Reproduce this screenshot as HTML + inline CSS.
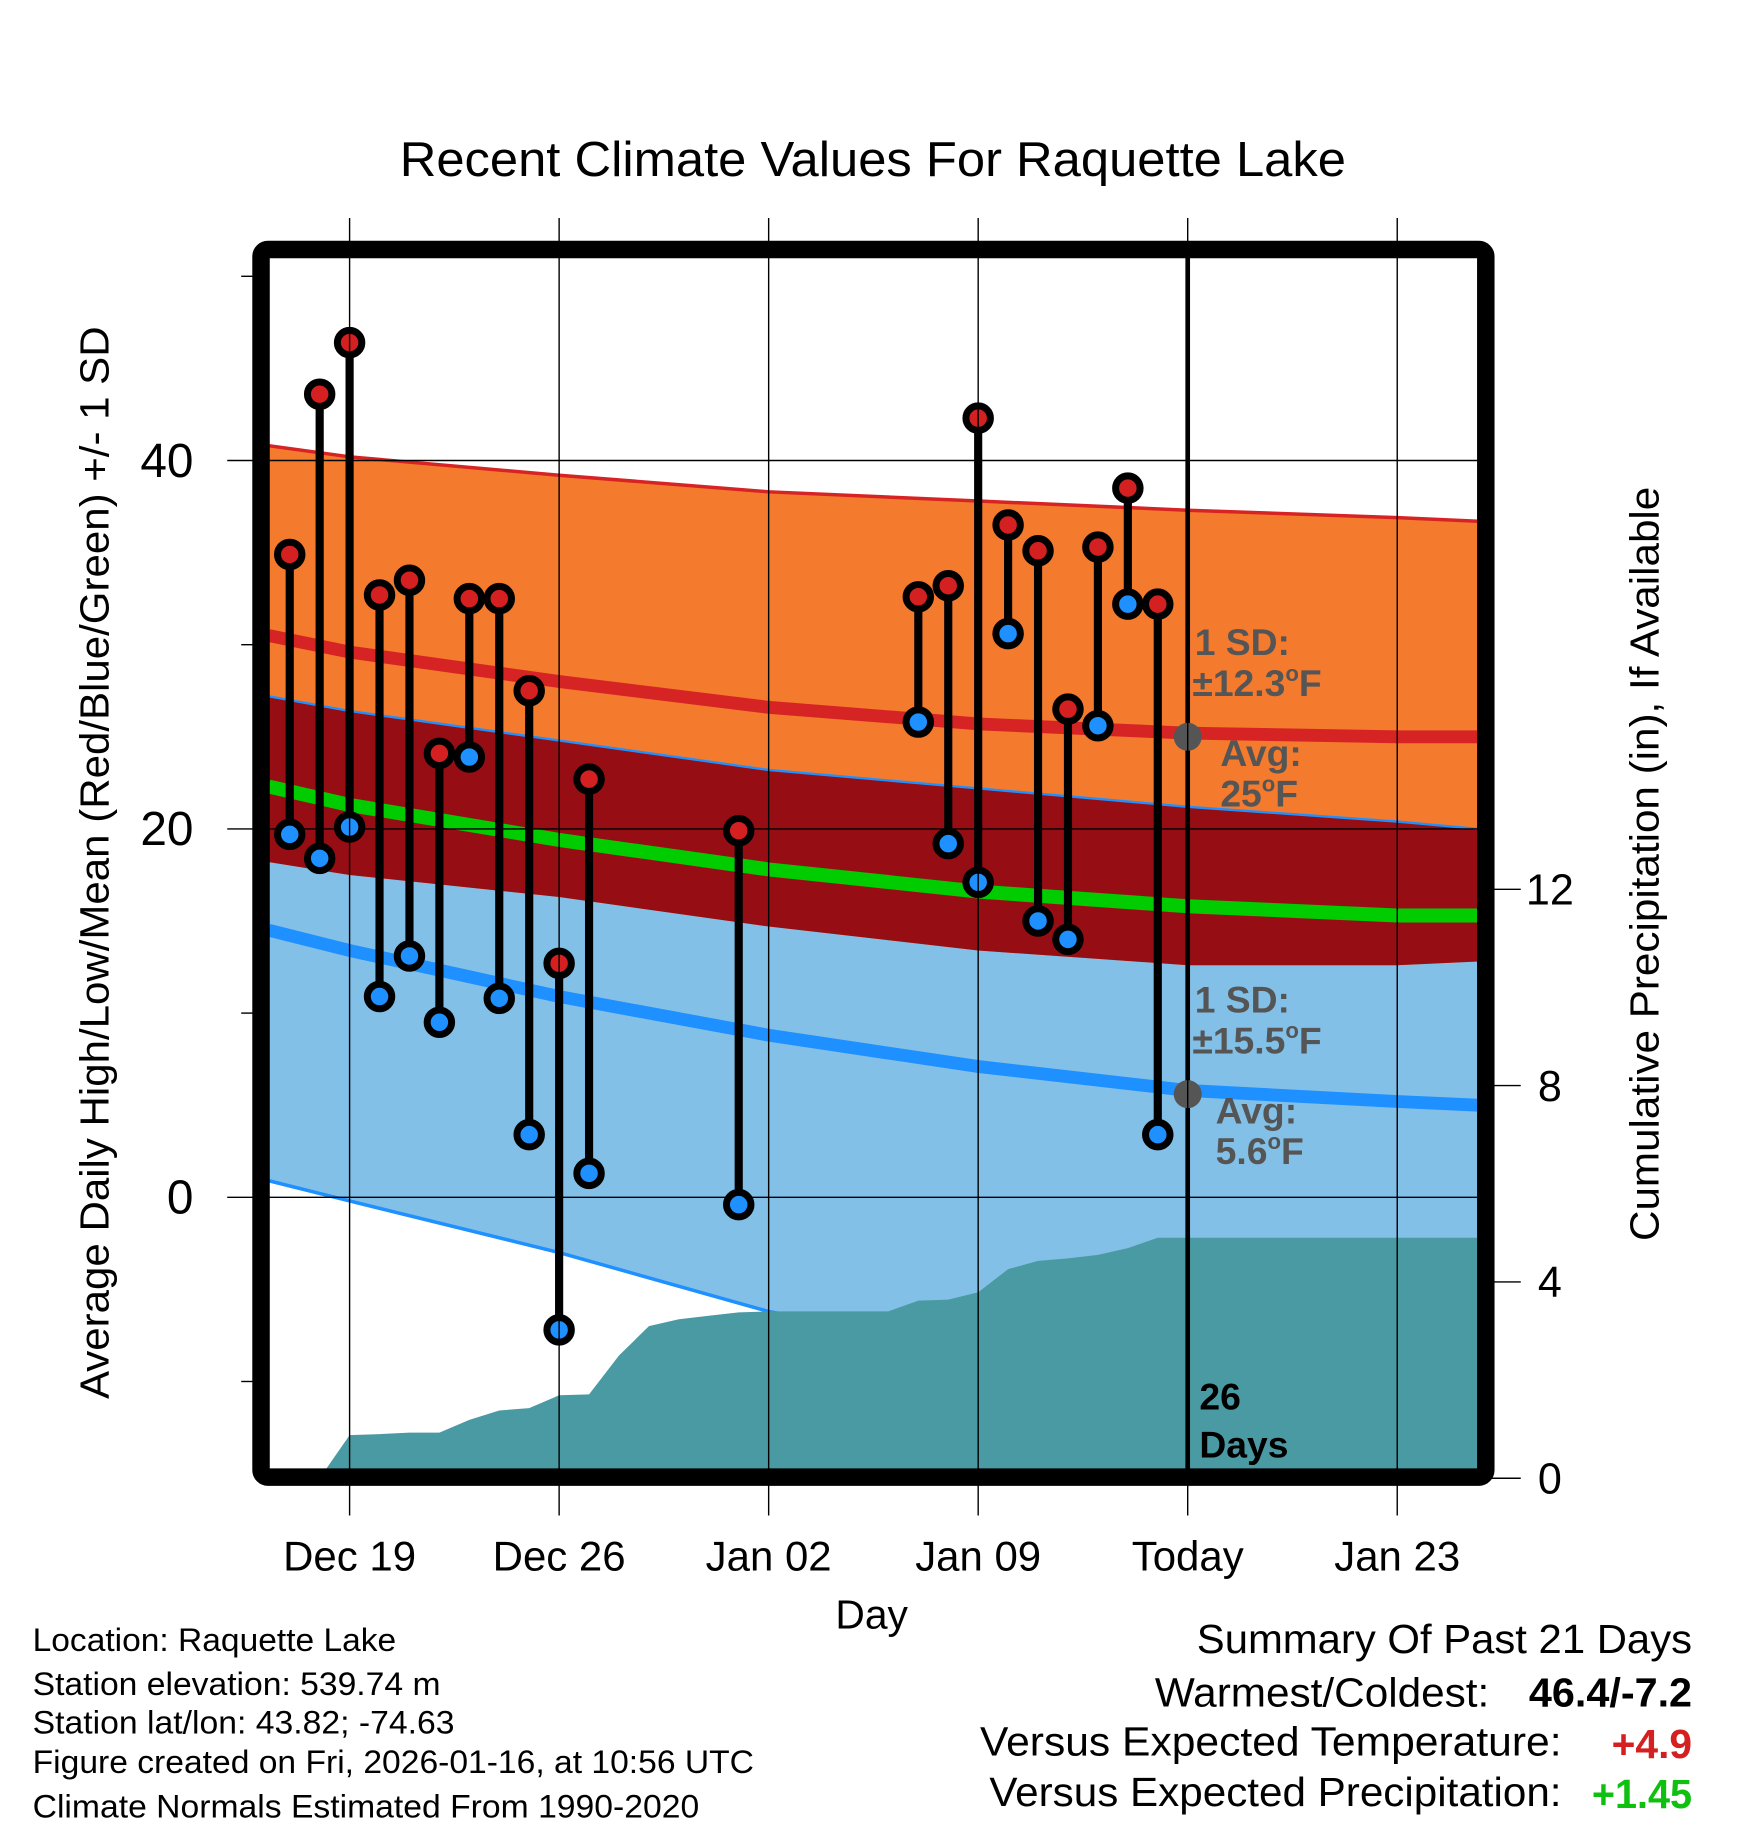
<!DOCTYPE html>
<html><head><meta charset="utf-8"><style>
html,body{margin:0;padding:0;background:#fff}
svg{display:block;font-family:"Liberation Sans",Arial,sans-serif}
</style></head><body>
<svg id="chart" width="1748" height="1828" viewBox="0 0 1500 1568" preserveAspectRatio="none" xmlns="http://www.w3.org/2000/svg">
<defs><clipPath id="plotclip"><rect x="231" y="221" width="1037" height="1039"/></clipPath></defs>
<text x="343" y="151" font-size="42" textLength="812" lengthAdjust="spacingAndGlyphs">Recent Climate Values For Raquette Lake</text>
<g id="plot" clip-path="url(#plotclip)"></g>
<g id="over"></g>
<rect x="224" y="214" width="1051" height="1053" rx="6" fill="none" stroke="#000" stroke-width="15"/>
<g id="axes"></g>
<text x="748" y="1397" font-size="35" text-anchor="middle">Day</text>
<text transform="translate(93,740) rotate(-90)" font-size="35" text-anchor="middle" textLength="920" lengthAdjust="spacingAndGlyphs">Average Daily High/Low/Mean (Red/Blue/Green) +/- 1 SD</text>
<text transform="translate(1423,741) rotate(-90)" font-size="35" text-anchor="middle" textLength="647" lengthAdjust="spacingAndGlyphs">Cumulative Precipitation (in), If Available</text>
<g font-size="28" lengthAdjust="spacingAndGlyphs">
<text x="28" y="1416" textLength="312" lengthAdjust="spacingAndGlyphs">Location: Raquette Lake</text>
<text x="28" y="1454" textLength="350" lengthAdjust="spacingAndGlyphs">Station elevation: 539.74 m</text>
<text x="28" y="1487" textLength="362" lengthAdjust="spacingAndGlyphs">Station lat/lon: 43.82; -74.63</text>
<text x="28" y="1521" textLength="619" lengthAdjust="spacingAndGlyphs">Figure created on Fri, 2026-01-16, at 10:56 UTC</text>
<text x="28" y="1559" textLength="572" lengthAdjust="spacingAndGlyphs">Climate Normals Estimated From 1990-2020</text>
</g>
<g font-size="35">
<text x="1027" y="1418" textLength="425" lengthAdjust="spacingAndGlyphs">Summary Of Past 21 Days</text>
<text x="991" y="1464" textLength="287" lengthAdjust="spacingAndGlyphs">Warmest/Coldest:</text>
<text x="1312" y="1464" font-weight="bold" textLength="140" lengthAdjust="spacingAndGlyphs">46.4/-7.2</text>
<text x="841" y="1506" textLength="499" lengthAdjust="spacingAndGlyphs">Versus Expected Temperature:</text>
<text x="1383" y="1508" font-weight="bold" fill="#d42020" textLength="69" lengthAdjust="spacingAndGlyphs">+4.9</text>
<text x="849" y="1549" textLength="491" lengthAdjust="spacingAndGlyphs">Versus Expected Precipitation:</text>
<text x="1366" y="1551" font-weight="bold" fill="#10c010" textLength="86" lengthAdjust="spacingAndGlyphs">+1.45</text>
</g>
</svg>
<script>
// day index: 0 = Dec 19
const normDays = [-2.7, 0, 7, 14, 21, 28, 35, 37.7];
const highTop = [40.8, 40.2, 39.2, 38.3, 37.8, 37.3, 36.9, 36.7];
const highAvg = [30.5, 29.6, 28.0, 26.6, 25.7, 25.2, 25.0, 25.0];
const highBot = [18.2, 17.5, 16.3, 14.7, 13.4, 12.6, 12.6, 12.8];
const meanAvg = [22.3, 21.3, 19.4, 17.8, 16.6, 15.8, 15.3, 15.3];
const lowTop = [27.2, 26.4, 24.8, 23.2, 22.2, 21.2, 20.4, 20.0];
const lowAvg = [14.5, 13.4, 10.9, 8.8, 7.1, 5.8, 5.2, 5.0];
const lowBot = [0.9, -0.2, -3.0, -6.2, -8.4, -9.9, -10.6, -10.8];
const obsDays = [-2,-1,0,1,2,3,4,5,6,7,8,13,19,20,21,22,23,24,25,26,27];
const obsHigh = [34.9,43.6,46.4,32.7,33.5,24.1,32.5,32.5,27.5,12.7,22.7,19.9,32.6,33.2,42.3,36.5,35.1,26.5,35.3,38.5,32.2];
const obsLow = [19.7,18.4,20.1,10.9,13.1,9.5,23.9,10.8,3.4,-7.2,1.3,-0.4,25.8,19.2,17.1,30.6,15.0,14.0,25.6,32.2,3.4];
const precipDays = [-1,0,1,2,3,4,5,6,7,8,9,10,11,12,13,14,18,19,20,21,22,23,24,25,26,27,28,37.7];
const precipVals = [0,0.88,0.9,0.93,0.93,1.19,1.38,1.43,1.69,1.71,2.5,3.1,3.24,3.31,3.38,3.4,3.4,3.62,3.64,3.79,4.26,4.43,4.48,4.55,4.69,4.9,4.9,4.9];
const xTickDays = [0,7,14,21,28,35];
const xTickLabels = ["Dec 19","Dec 26","Jan 02","Jan 09","Today","Jan 23"];
const yTicks = [0,20,40];
const yMinor = [-10,10,30,50];
const pTicks = [0,4,8,12];
const todayDay = 28;
const todayHigh = 25, todayHighSD = "12.3", todayLow = 5.6, todayLowSD = "15.5";

const NS="http://www.w3.org/2000/svg";
const X = d => 300 + d*179.8/7;
const Y = v => 1027 - v*15.8;
const P = v => 1268 - v*42.1;
function mk(tag, parent, attrs){const e=document.createElementNS(NS,tag);for(const k in attrs)e.setAttribute(k,attrs[k]);parent.appendChild(e);return e;}
const plot=document.getElementById('plot'), over=document.getElementById('over'), axes=document.getElementById('axes');
function pts(a){return normDays.map((d,i)=>X(d)+','+Y(a[i]));}
function band(top,bot,fill,name){
  const p=pts(top).concat(pts(bot).reverse()).join(' ');
  const e=mk('polygon',plot,{points:p,fill:fill});
  
  
}
function line(a,color,w,name){
  const e=mk('polyline',plot,{points:pts(a).join(' '),fill:'none',stroke:color,'stroke-width':w});
  
  
}
band(lowTop,lowBot,'#83c0e8','low-sd-band');
band(highTop,highBot,'#f47a2e','high-sd-band');
band(lowTop,highBot,'#960e14','overlap-band');
line(highTop,'#d62424',3,'high-plus-sd-line');
line(lowTop,'#1e90ff',2,'low-plus-sd-line');
line(lowBot,'#1e90ff',3,'low-minus-sd-line');
line(highAvg,'#d62424',11,'avg-high-line');
line(meanAvg,'#00cc00',12,'avg-mean-line');
line(lowAvg,'#1e90ff',11,'avg-low-line');
{
  let p=precipDays.map((d,i)=>X(d)+','+P(precipVals[i]));
  p.push(X(37.7)+',1275'); p.push(X(-1)+',1275');
  const e=mk('polygon',plot,{points:p.join(' '),fill:'#4a9aa3'});
  
  
}
yTicks.forEach(v=>{
  const g=mk('line',plot,{x1:190,x2:1280,y1:Y(v),y2:Y(v),stroke:'#000','stroke-width':1.2});
  
  
});
xTickDays.forEach((d,i)=>{
  const g=mk('line',axes,{x1:X(d),x2:X(d),y1:187,y2:1300,stroke:'#000','stroke-width':1.2});
  
  
  const t=mk('text',axes,{x:X(d),y:1347,'font-size':36,'text-anchor':'middle'});
  t.textContent=xTickLabels[i];
  
  
});
yTicks.forEach(v=>{
  const tk=mk('line',axes,{x1:195,x2:220,y1:Y(v),y2:Y(v),stroke:'#000','stroke-width':1.2});
  
  
  const t=mk('text',axes,{x:166,y:Y(v)+14,'font-size':41,'text-anchor':'end'});
  t.textContent=v;
  
  
});
yMinor.forEach(v=>{
  const tk=mk('line',axes,{x1:207,x2:220,y1:Y(v),y2:Y(v),stroke:'#000','stroke-width':1.2});
  
  
});
pTicks.forEach(v=>{
  const tk=mk('line',axes,{x1:1280,x2:1305,y1:P(v),y2:P(v),stroke:'#000','stroke-width':1.2});
  
  
  const t=mk('text',axes,{x:1330,y:P(v)+13,'font-size':37,'text-anchor':'middle'});
  t.textContent=v;
  
  
});
{
  const e=mk('line',over,{x1:X(todayDay),x2:X(todayDay),y1:221,y2:1262,stroke:'#000','stroke-width':4});
  
  
}
obsDays.forEach((d,i)=>{
  const x=X(d);
  const s=mk('line',over,{x1:x,x2:x,y1:Y(obsHigh[i]),y2:Y(obsLow[i]),stroke:'#000','stroke-width':7});
  
  
  [[obsHigh[i],'#d42020','obs-high-point'],[obsLow[i],'#1e90ff','obs-low-point']].forEach(([v,c,n])=>{
    const o=mk('circle',over,{cx:x,cy:Y(v),r:10.5,fill:c,stroke:'#000','stroke-width':6});
    
    
  });
});
[[todayHigh,'avg-high-today-dot'],[todayLow,'avg-low-today-dot']].forEach(([v,n])=>{
  const c=mk('circle',over,{cx:X(todayDay),cy:Y(v),r:12,fill:'#555'});
  
  
});
function ann(x,y,txt,fill,name){
  const t=mk('text',over,{x:x,y:y,'font-size':32,'font-weight':'bold',fill:fill});
  t.innerHTML=txt;
  
  
}
const xt=X(todayDay);
ann(xt+6,Y(todayHigh)-70,'1 SD:','#555','high-sd-label');
ann(xt+4,Y(todayHigh)-35,'±'+todayHighSD+'<tspan font-size="19" dy="-13">o</tspan><tspan dy="13">F</tspan>','#555','high-sd-value');
ann(xt+28,Y(todayHigh)+25,'Avg:','#555','high-avg-label');
ann(xt+28,Y(todayHigh)+60,todayHigh+'<tspan font-size="19" dy="-13">o</tspan><tspan dy="13">F</tspan>','#555','high-avg-value');
ann(xt+6,Y(todayLow)-70,'1 SD:','#555','low-sd-label');
ann(xt+4,Y(todayLow)-35,'±'+todayLowSD+'<tspan font-size="19" dy="-13">o</tspan><tspan dy="13">F</tspan>','#555','low-sd-value');
ann(xt+24,Y(todayLow)+25,'Avg:','#555','low-avg-label');
ann(xt+24,Y(todayLow)+60,todayLow+'<tspan font-size="19" dy="-13">o</tspan><tspan dy="13">F</tspan>','#555','low-avg-value');
ann(xt+10,1209,'26','#000','days-count');
ann(xt+10,1250,'Days','#000','days-label');
</script>
</body></html>
